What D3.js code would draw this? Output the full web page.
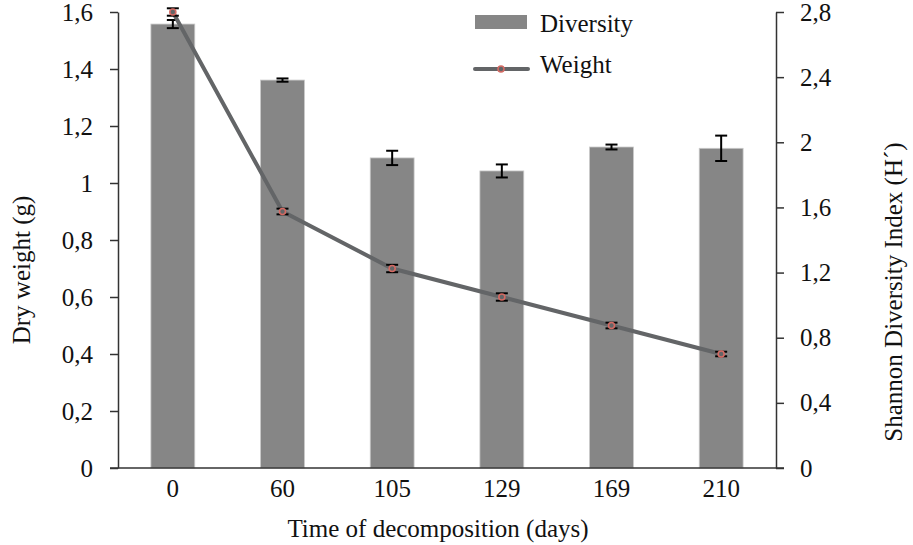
<!DOCTYPE html>
<html><head><meta charset="utf-8">
<script src="https://cdn.jsdelivr.net/npm/d3@7"></script>
<style>body{margin:0;background:#fff}</style>
</head><body>
<svg id="c" width="913" height="545"></svg>
<script>
const categories = ["0","60","105","129","169","210"];
const diversity = [2.726, 2.382, 1.904, 1.824, 1.971, 1.963];
const diversityErr = [0.025, 0.01, 0.044, 0.04, 0.015, 0.078];
const weight = [1.6, 0.9, 0.7, 0.6, 0.5, 0.4];
const weightErr = [0.013, 0.01, 0.013, 0.013, 0.01, 0.008];
const leftTicks = [0,0.2,0.4,0.6,0.8,1,1.2,1.4,1.6];
const rightTicks = [0,0.4,0.8,1.2,1.6,2,2.4,2.8];

const FONT = "'Liberation Serif','Times New Roman',serif";
const FS = 25;
const svg = d3.select("#c");
const L = 118, R = 776, T = 12, B = 468;
const x = d3.scaleBand().domain(categories).range([L, R]).paddingInner(0.6).paddingOuter(0.3);
const yL = d3.scaleLinear().domain([0,1.6]).range([B,T]);
const yR = d3.scaleLinear().domain([0,2.8]).range([B,T]);
const fmt = d => String(+d.toFixed(1)).replace(".", ",");

svg.append("g").selectAll("rect").data(categories).join("rect")
  .attr("x", d => x(d)).attr("width", x.bandwidth())
  .attr("y", (d,i) => yR(diversity[i])).attr("height", (d,i) => B - yR(diversity[i]))
  .attr("fill", "#868686").attr("stroke", "#c9c9c9").attr("stroke-width", 0.8);

function errBars(vals, errs, scale) {
  const g = svg.append("g").attr("stroke", "#000").attr("stroke-width", 2);
  categories.forEach((c,i) => {
    const cx = x(c) + x.bandwidth()/2, y1 = scale(vals[i]+errs[i]), y2 = scale(vals[i]-errs[i]);
    g.append("line").attr("x1", cx).attr("x2", cx).attr("y1", y1).attr("y2", y2);
    g.append("line").attr("x1", cx-6).attr("x2", cx+6).attr("y1", y1).attr("y2", y1);
    g.append("line").attr("x1", cx-6).attr("x2", cx+6).attr("y1", y2).attr("y2", y2);
  });
}
errBars(diversity, diversityErr, yR);

const line = d3.line().x((d,i) => x(categories[i]) + x.bandwidth()/2).y(d => yL(d));
svg.append("path").datum(weight).attr("d", line).attr("fill", "none")
  .attr("stroke", "#636567").attr("stroke-width", 4);
errBars(weight, weightErr, yL);
svg.append("g").selectAll("circle").data(weight).join("circle")
  .attr("cx", (d,i) => x(categories[i]) + x.bandwidth()/2).attr("cy", d => yL(d))
  .attr("r", 3).attr("fill", "#636567").attr("stroke", "#d46a63").attr("stroke-width", 1.6);

const axL = svg.append("g").attr("transform", `translate(${L},0)`)
  .call(d3.axisLeft(yL).tickValues(leftTicks).tickFormat(fmt).tickSize(8).tickPadding(17).tickSizeOuter(0));
const axR = svg.append("g").attr("transform", `translate(${R},0)`)
  .call(d3.axisRight(yR).tickValues(rightTicks).tickFormat(fmt).tickSize(8).tickPadding(16).tickSizeOuter(0));
[axL, axR].forEach(a => {
  a.attr("font-family", FONT).attr("font-size", FS);
  a.select(".domain").attr("stroke", "#333").attr("stroke-width", 1.5);
  a.selectAll(".tick line").attr("stroke", "#333").attr("stroke-width", 1.5);
  a.selectAll("text").attr("fill", "#111");
});
const axB = svg.append("g").attr("transform", `translate(0,${B})`)
  .call(d3.axisBottom(x).tickSize(0).tickPadding(11).tickSizeOuter(0));
axB.attr("font-family", FONT).attr("font-size", FS);
axB.select(".domain").remove();
axB.selectAll("text").attr("fill", "#111");
svg.append("line").attr("x1", 110).attr("x2", 784).attr("y1", B).attr("y2", B)
  .attr("stroke", "#333").attr("stroke-width", 1.5);

function txt(sel){ return sel.attr("font-family", FONT).attr("font-size", FS).attr("fill", "#111"); }
txt(svg.append("text")).attr("x", 438).attr("y", 537).attr("text-anchor", "middle")
  .text("Time of decomposition (days)");
txt(svg.append("text")).attr("transform", "translate(30,270) rotate(-90)").attr("text-anchor", "middle")
  .text("Dry weight (g)");
txt(svg.append("text")).attr("transform", "translate(902,292) rotate(-90)").attr("text-anchor", "middle")
  .text("Shannon Diversity Index (H´)");

const lg = svg.append("g");
lg.append("rect").attr("x", 475).attr("y", 15).attr("width", 52).attr("height", 14).attr("fill", "#868686");
txt(lg.append("text")).attr("x", 540).attr("y", 32).text("Diversity");
lg.append("line").attr("x1", 475).attr("x2", 528).attr("y1", 69).attr("y2", 69)
  .attr("stroke", "#636567").attr("stroke-width", 4).attr("stroke-linecap", "round");
lg.append("circle").attr("cx", 501).attr("cy", 69).attr("r", 3).attr("fill", "#636567")
  .attr("stroke", "#d46a63").attr("stroke-width", 1.6);
txt(lg.append("text")).attr("x", 540).attr("y", 73).text("Weight");
</script>
</body></html>
